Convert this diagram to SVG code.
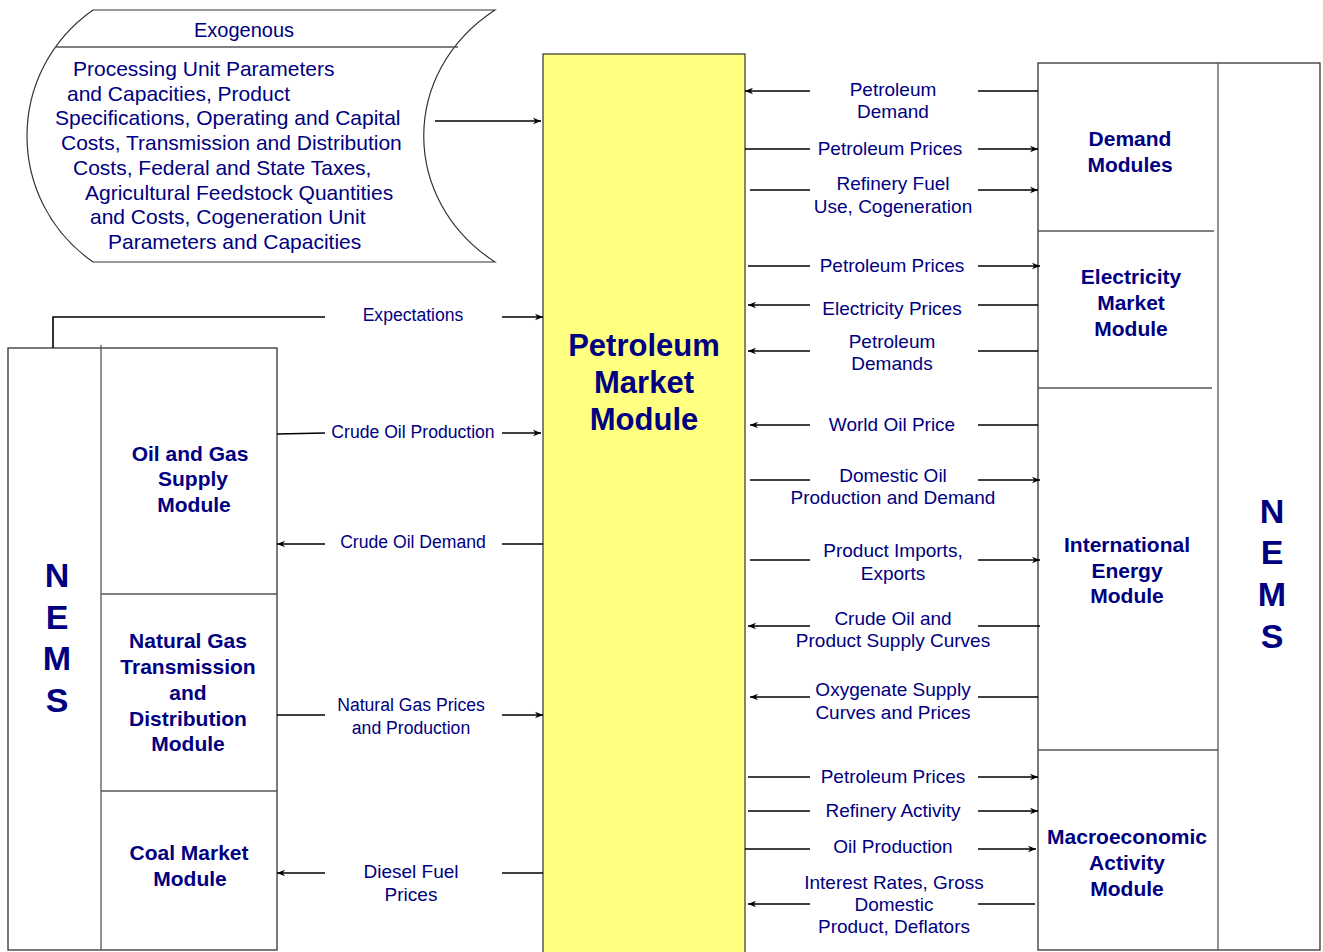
<svg xmlns="http://www.w3.org/2000/svg" width="1323" height="952" viewBox="0 0 1323 952">
<defs>
<style>
.t{font-family:"Liberation Sans",Arial,sans-serif;fill:#000080;font-size:19px;text-anchor:middle}
.s{font-size:17.6px}
.ex{font-family:"Liberation Sans",Arial,sans-serif;fill:#000080;font-size:21px}
.b{font-family:"Liberation Sans",Arial,sans-serif;fill:#000080;font-weight:bold;font-size:21px;text-anchor:middle}
.big{font-family:"Liberation Sans",Arial,sans-serif;fill:#000080;font-weight:bold;font-size:31px;text-anchor:middle}
.nems{font-family:"Liberation Sans",Arial,sans-serif;fill:#000080;font-weight:bold;font-size:34px;text-anchor:middle}
.ln{stroke:#000;stroke-width:1.6;fill:none}
.bx{stroke:#333;stroke-width:1.3;fill:#fff}
.sep{stroke:#555;stroke-width:1.3;fill:none}
</style>
<marker id="ah" viewBox="0 0 10 10" refX="10" refY="5" markerWidth="8" markerHeight="8" markerUnits="userSpaceOnUse" orient="auto">
<path d="M0,1 L10,5 L0,9 L3,5 Z" fill="#000"/>
</marker>
</defs>
<rect width="1323" height="952" fill="#fff"/>

<g id="exogenous">
<path d="M93,10 L495,10 C400,72 400,200 495,262 L93,262 C5,200 5,72 93,10 Z" fill="#fff" stroke="#333" stroke-width="1.2"/>
<line x1="55" y1="47" x2="458" y2="47" class="sep"/>
<text class="t" x="244" y="37" style="font-size:20px">Exogenous</text>
<text class="ex" x="73" y="76">Processing Unit Parameters</text>
<text class="ex" x="67" y="101">and Capacities, Product</text>
<text class="ex" x="55" y="125">Specifications, Operating and Capital</text>
<text class="ex" x="61" y="150">Costs, Transmission and Distribution</text>
<text class="ex" x="73" y="175">Costs, Federal and State Taxes,</text>
<text class="ex" x="85" y="200">Agricultural Feedstock Quantities</text>
<text class="ex" x="90" y="224">and Costs, Cogeneration Unit</text>
<text class="ex" x="108" y="249">Parameters and Capacities</text>
</g>

<g id="pmm">
<rect x="543" y="54" width="202" height="900" fill="#FFFF80" stroke="#333" stroke-width="1.2"/>
<text class="big" x="644" y="356">Petroleum</text>
<text class="big" x="644" y="393">Market</text>
<text class="big" x="644" y="430">Module</text>
</g>

<g id="nems-left">
<rect x="8" y="348" width="269" height="602" class="bx"/>
<line x1="101" y1="345" x2="101" y2="950" class="sep"/>
<text class="nems" x="57" y="587">N</text>
<text class="nems" x="57" y="629">E</text>
<text class="nems" x="57" y="670">M</text>
<text class="nems" x="57" y="712">S</text>
</g>
<g id="oil-gas-supply">
<text class="b" x="190" y="461">Oil and Gas</text>
<text class="b" x="193" y="486">Supply</text>
<text class="b" x="194" y="512">Module</text>
</g>
<g id="natural-gas">
<line x1="101" y1="594" x2="277" y2="594" class="sep"/>
<text class="b" x="188" y="648">Natural Gas</text>
<text class="b" x="188" y="674">Transmission</text>
<text class="b" x="188" y="700">and</text>
<text class="b" x="188" y="726">Distribution</text>
<text class="b" x="188" y="751">Module</text>
</g>
<g id="coal">
<line x1="101" y1="791" x2="277" y2="791" class="sep"/>
<text class="b" x="189" y="860">Coal Market</text>
<text class="b" x="190" y="886">Module</text>
</g>

<g id="nems-right">
<rect x="1038" y="63" width="282" height="887" class="bx"/>
<line x1="1218" y1="63" x2="1218" y2="950" class="sep"/>
<text class="nems" x="1272" y="523">N</text>
<text class="nems" x="1272" y="564">E</text>
<text class="nems" x="1272" y="606">M</text>
<text class="nems" x="1272" y="648">S</text>
</g>
<g id="demand">
<text class="b" x="1130" y="146">Demand</text>
<text class="b" x="1130" y="172">Modules</text>
</g>
<g id="electricity">
<line x1="1038" y1="231" x2="1214" y2="231" class="sep"/>
<text class="b" x="1131" y="284">Electricity</text>
<text class="b" x="1131" y="310">Market</text>
<text class="b" x="1131" y="336">Module</text>
</g>
<g id="international">
<line x1="1038" y1="388" x2="1212" y2="388" class="sep"/>
<text class="b" x="1127" y="552">International</text>
<text class="b" x="1127" y="578">Energy</text>
<text class="b" x="1127" y="603">Module</text>
</g>
<g id="macro">
<line x1="1038" y1="750" x2="1218" y2="750" class="sep"/>
<text class="b" x="1127" y="844">Macroeconomic</text>
<text class="b" x="1127" y="870">Activity</text>
<text class="b" x="1127" y="896">Module</text>
</g>

<g id="connectors">
<line x1="435" y1="121" x2="541" y2="121" class="ln" marker-end="url(#ah)"/>
<polyline points="53,348 53,317 325,317" class="ln"/>
<line x1="502" y1="317" x2="543" y2="317" class="ln" marker-end="url(#ah)"/>
<text class="t s" x="413" y="321">Expectations</text>

<line x1="277" y1="434" x2="325" y2="433" class="ln"/>
<line x1="502" y1="433" x2="541" y2="433" class="ln" marker-end="url(#ah)"/>
<text class="t s" x="413" y="438">Crude Oil Production</text>

<line x1="325" y1="544" x2="277" y2="544" class="ln" marker-end="url(#ah)"/>
<line x1="502" y1="544" x2="543" y2="544" class="ln"/>
<text class="t s" x="413" y="548">Crude Oil Demand</text>

<line x1="277" y1="715" x2="325" y2="715" class="ln"/>
<line x1="502" y1="715" x2="543" y2="715" class="ln" marker-end="url(#ah)"/>
<text class="t s" x="411" y="711">Natural Gas Prices</text>
<text class="t s" x="411" y="734">and Production</text>

<line x1="325" y1="873" x2="277" y2="873" class="ln" marker-end="url(#ah)"/>
<line x1="502" y1="873" x2="543" y2="873" class="ln"/>
<text class="t" x="411" y="878">Diesel Fuel</text>
<text class="t" x="411" y="901">Prices</text>

<line x1="810" y1="91" x2="745" y2="91" class="ln" marker-end="url(#ah)"/>
<line x1="978" y1="91" x2="1038" y2="91" class="ln"/>
<text class="t" x="893" y="96">Petroleum</text>
<text class="t" x="893" y="118">Demand</text>

<line x1="745" y1="149" x2="810" y2="149" class="ln"/>
<line x1="978" y1="149" x2="1038" y2="149" class="ln" marker-end="url(#ah)"/>
<text class="t" x="890" y="155">Petroleum Prices</text>

<line x1="750" y1="190" x2="810" y2="190" class="ln"/>
<line x1="978" y1="190" x2="1038" y2="190" class="ln" marker-end="url(#ah)"/>
<text class="t" x="893" y="190">Refinery Fuel</text>
<text class="t" x="893" y="213">Use, Cogeneration</text>

<line x1="748" y1="266" x2="810" y2="266" class="ln"/>
<line x1="978" y1="266" x2="1040" y2="266" class="ln" marker-end="url(#ah)"/>
<text class="t" x="892" y="272">Petroleum Prices</text>

<line x1="810" y1="305" x2="748" y2="305" class="ln" marker-end="url(#ah)"/>
<line x1="978" y1="305" x2="1038" y2="305" class="ln"/>
<text class="t" x="892" y="315">Electricity Prices</text>

<line x1="810" y1="351" x2="748" y2="351" class="ln" marker-end="url(#ah)"/>
<line x1="978" y1="351" x2="1038" y2="351" class="ln"/>
<text class="t" x="892" y="348">Petroleum</text>
<text class="t" x="892" y="370">Demands</text>

<line x1="810" y1="425" x2="750" y2="425" class="ln" marker-end="url(#ah)"/>
<line x1="978" y1="425" x2="1038" y2="425" class="ln"/>
<text class="t" x="892" y="431">World Oil Price</text>

<line x1="750" y1="480" x2="810" y2="480" class="ln"/>
<line x1="978" y1="480" x2="1040" y2="480" class="ln" marker-end="url(#ah)"/>
<text class="t" x="893" y="482">Domestic Oil</text>
<text class="t" x="893" y="504">Production and Demand</text>

<line x1="750" y1="560" x2="810" y2="560" class="ln"/>
<line x1="978" y1="560" x2="1040" y2="560" class="ln" marker-end="url(#ah)"/>
<text class="t" x="893" y="557">Product Imports,</text>
<text class="t" x="893" y="580">Exports</text>

<line x1="810" y1="626" x2="748" y2="626" class="ln" marker-end="url(#ah)"/>
<line x1="978" y1="626" x2="1040" y2="626" class="ln"/>
<text class="t" x="893" y="625">Crude Oil and</text>
<text class="t" x="893" y="647">Product Supply Curves</text>

<line x1="810" y1="697" x2="750" y2="697" class="ln" marker-end="url(#ah)"/>
<line x1="978" y1="697" x2="1038" y2="697" class="ln"/>
<text class="t" x="893" y="696">Oxygenate Supply</text>
<text class="t" x="893" y="719">Curves and Prices</text>

<line x1="748" y1="777" x2="810" y2="777" class="ln"/>
<line x1="978" y1="777" x2="1038" y2="777" class="ln" marker-end="url(#ah)"/>
<text class="t" x="893" y="783">Petroleum Prices</text>

<line x1="748" y1="811" x2="810" y2="811" class="ln"/>
<line x1="978" y1="811" x2="1038" y2="811" class="ln" marker-end="url(#ah)"/>
<text class="t" x="893" y="817">Refinery Activity</text>

<line x1="745" y1="849" x2="810" y2="849" class="ln"/>
<line x1="978" y1="849" x2="1036" y2="849" class="ln" marker-end="url(#ah)"/>
<text class="t" x="893" y="853">Oil Production</text>

<line x1="810" y1="904" x2="748" y2="904" class="ln" marker-end="url(#ah)"/>
<line x1="978" y1="904" x2="1035" y2="904" class="ln"/>
<text class="t" x="894" y="889">Interest Rates, Gross</text>
<text class="t" x="894" y="911">Domestic</text>
<text class="t" x="894" y="933">Product, Deflators</text>
</g>
</svg>
